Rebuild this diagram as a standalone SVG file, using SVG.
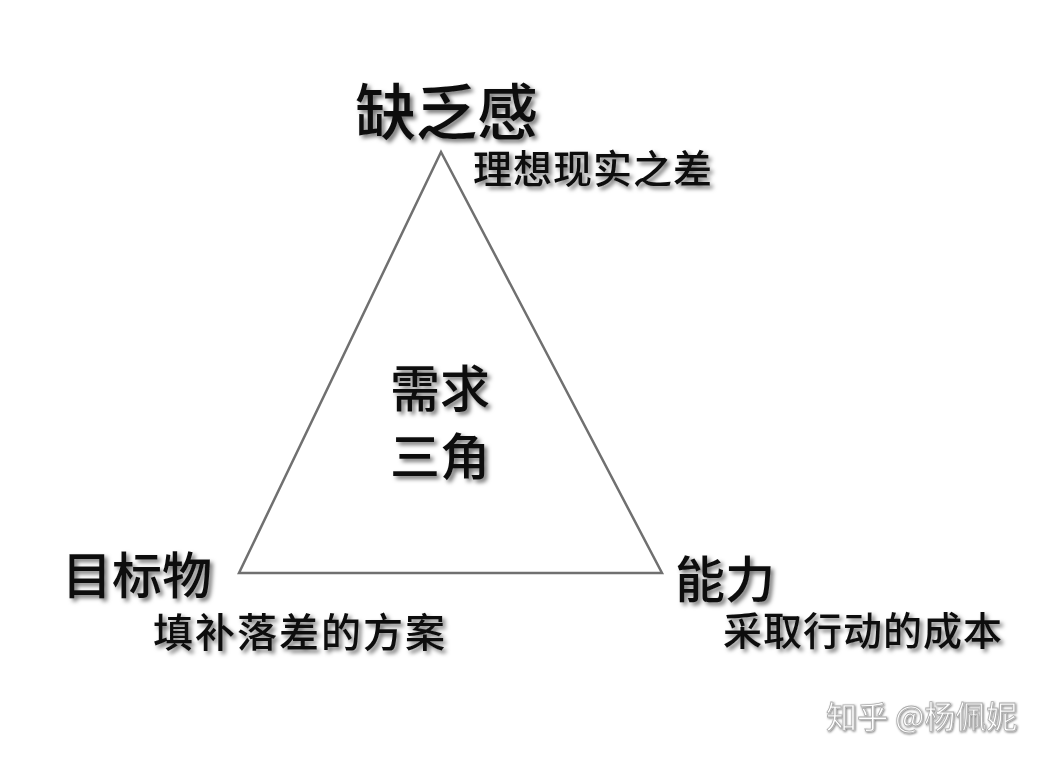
<svg xmlns="http://www.w3.org/2000/svg" width="1046" height="761" viewBox="0 0 1046 761">
<defs>
<filter id="sh" x="-10%" y="-20%" width="130%" height="150%">
<feDropShadow dx="3" dy="3" stdDeviation="2" flood-color="#000" flood-opacity="0.55"/>
</filter>
<filter id="wm" x="-10%" y="-20%" width="130%" height="150%">
<feDropShadow dx="1" dy="1" stdDeviation="1" flood-color="#000" flood-opacity="0.5"/>
</filter>
</defs>
<style>
text{font-family:"Noto Sans CJK SC","Noto Sans",sans-serif;fill:#111;}
.big{font-size:61px;font-weight:500;filter:url(#sh);}
.mid{font-size:50px;font-weight:500;filter:url(#sh);}
.sub{font-size:39px;font-weight:500;filter:url(#sh);letter-spacing:1px;}
.sub2{font-size:40px;font-weight:500;filter:url(#sh);letter-spacing:2px;}
.ctr{font-size:50px;font-weight:500;filter:url(#sh);}
.wm{font-size:31px;fill:#fff;stroke:#aaa;stroke-width:0.8;filter:url(#wm);}
</style>
<rect width="1046" height="761" fill="#fff"/>
<g id="connectors">
<polygon points="441,152 239,573 662,573" fill="none" stroke="#707070" stroke-width="2.5"/>
</g>
<g id="node-top">
<text class="big" x="355" y="135">缺乏感</text>
<text class="sub" x="473" y="183">理想现实之差</text>
</g>
<g id="node-left">
<text class="mid" x="62" y="594">目标物</text>
<text class="sub2" x="153" y="647">填补落差的方案</text>
</g>
<g id="node-right">
<text class="mid" x="675" y="598">能力</text>
<text class="sub" x="723" y="645">采取行动的成本</text>
</g>
<g id="center">
<text class="ctr" x="390" y="407">需求</text>
<text class="ctr" x="390" y="475">三角</text>
</g>
<text class="wm" x="826" y="728">知乎 @杨佩妮</text>
</svg>
